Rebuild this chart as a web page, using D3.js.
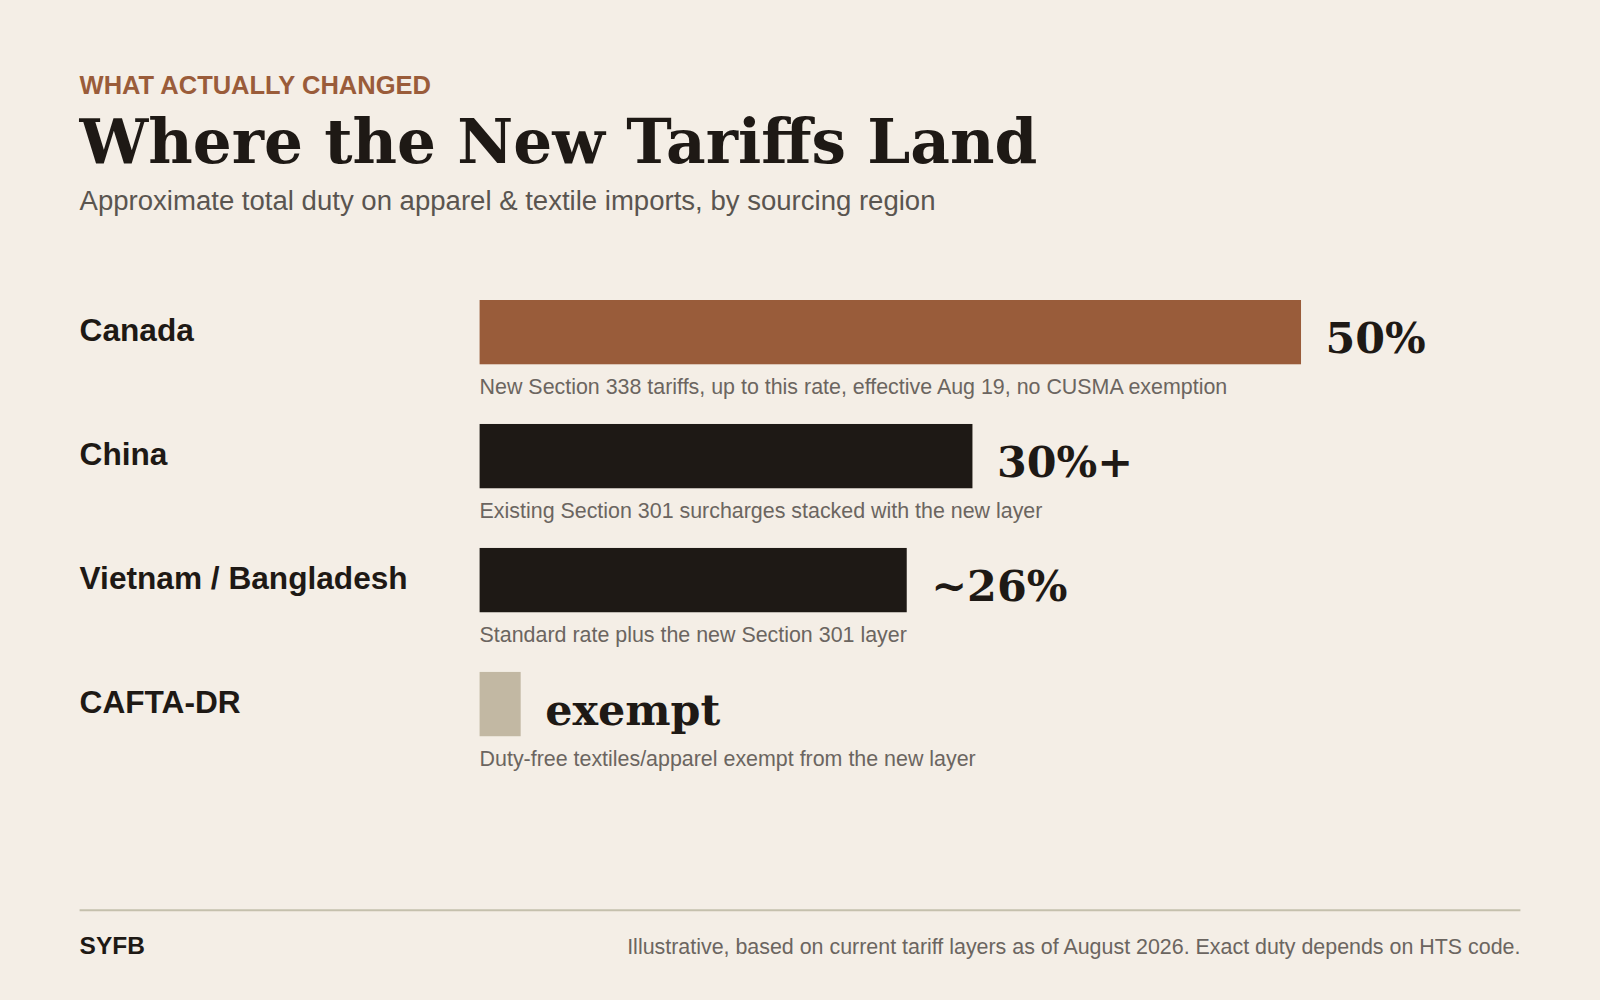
<!DOCTYPE html>
<html><head><meta charset="utf-8">
<script src="https://cdn.jsdelivr.net/npm/d3@7"></script>
<style>html,body{margin:0;padding:0;background:#f4eee6;}</style>
</head><body>
<svg id="c" width="1600" height="1000" viewBox="0 0 1568 980"></svg>
<script>
const categories = ["Canada","China","Vietnam / Bangladesh","CAFTA-DR"];
const values = [50, 30, 26, 2.5];
const valueLabels = ["50%","30%+","~26%","exempt"];
const notes = [
 "New Section 338 tariffs, up to this rate, effective Aug 19, no CUSMA exemption",
 "Existing Section 301 surcharges stacked with the new layer",
 "Standard rate plus the new Section 301 layer",
 "Duty-free textiles/apparel exempt from the new layer"];
const colors = ["#995c3a","#1e1915","#1e1915","#c2b8a3"];

const svg = d3.select("#c");
svg.append("rect").attr("width",1568).attr("height",980).attr("fill","#f4eee6");
const sans = "Liberation Sans, Arial, sans-serif", serif = "DejaVu Serif, serif";
svg.append("text").attr("x",78).attr("y",92).attr("font-family",sans).attr("font-weight",700)
 .attr("font-size",25).attr("fill","#9a5c3a").text("WHAT ACTUALLY CHANGED");
svg.append("text").attr("x",78).attr("y",160).attr("font-family",serif).attr("font-weight",700)
 .attr("font-size",60).attr("fill","#1e1915").text("Where the New Tariffs Land");
svg.append("text").attr("x",78).attr("y",206).attr("font-family",sans)
 .attr("font-size",27).attr("fill","#5a5550").text("Approximate total duty on apparel & textile imports, by sourcing region");

const x = d3.scaleLinear().domain([0,50]).range([470,1275]);
const y = d3.scaleBand().domain(categories).range([294,780]).paddingInner(0);
const bh = 63;
const g = svg.selectAll("g.row").data(categories).join("g").attr("class","row");
g.append("rect").attr("x",x(0)).attr("y",d=>y(d)).attr("height",bh)
 .attr("width",(d,i)=>x(values[i])-x(0)).attr("fill",(d,i)=>colors[i]);
g.append("text").attr("x",78).attr("y",d=>y(d)+40).attr("font-family",sans).attr("font-weight",700)
 .attr("font-size",31).attr("fill","#1e1915").text(d=>d);
g.append("text").attr("x",(d,i)=>x(values[i])+24).attr("y",d=>y(d)+52).attr("font-family",serif)
 .attr("font-weight",700).attr("font-size",42).attr("fill","#1e1915").text((d,i)=>valueLabels[i]);
g.append("text").attr("x",470).attr("y",d=>y(d)+92).attr("font-family",sans)
 .attr("font-size",21).attr("fill","#6b6560").text((d,i)=>notes[i]);

svg.append("line").attr("x1",78).attr("x2",1490).attr("y1",892).attr("y2",892)
 .attr("stroke","#c5c0ad").attr("stroke-width",2);
svg.append("text").attr("x",78).attr("y",935).attr("font-family",sans).attr("font-weight",700)
 .attr("font-size",24).attr("fill","#1e1915").text("SYFB");
svg.append("text").attr("x",1490).attr("y",935).attr("text-anchor","end").attr("font-family",sans)
 .attr("font-size",21).attr("fill","#6b6560")
 .text("Illustrative, based on current tariff layers as of August 2026. Exact duty depends on HTS code.");
</script>
</body></html>
